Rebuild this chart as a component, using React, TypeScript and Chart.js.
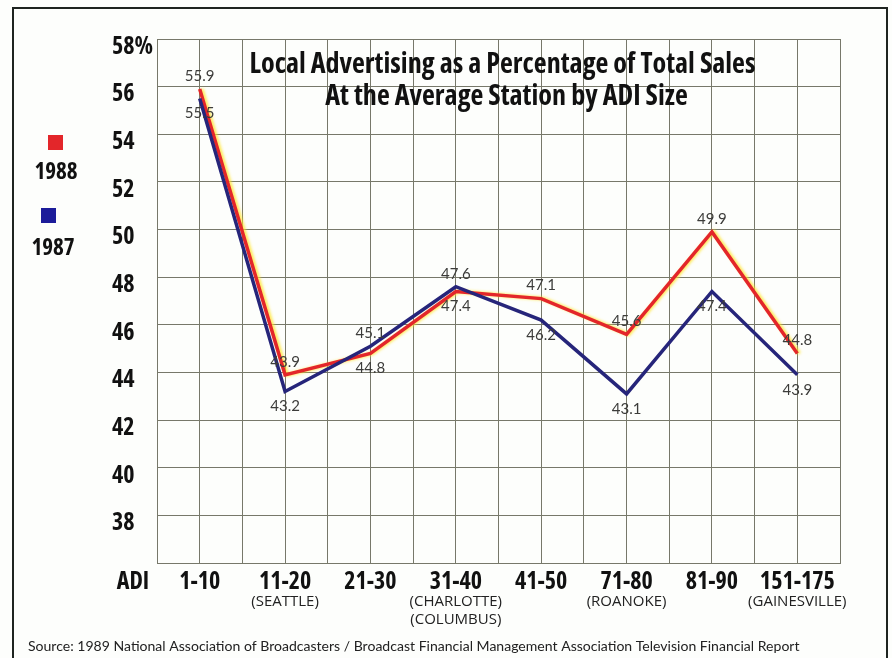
import React, { useEffect, useRef } from 'react';
import { Chart, registerables } from 'chart.js';

Chart.register(...registerables);

// ---- data ----
const categories = ['1-10', '11-20', '21-30', '31-40', '41-50', '71-80', '81-90', '151-175'];
const subLabels: string[][] = [[], ['(SEATTLE)'], [], ['(CHARLOTTE)', '(COLUMBUS)'], [], ['(ROANOKE)'], [], ['(GAINESVILLE)']];
const values1988 = [55.9, 43.9, 44.8, 47.4, 47.1, 45.6, 49.9, 44.8];
const values1987 = [55.5, 43.2, 45.1, 47.6, 46.2, 43.1, 47.4, 43.9];
const yMin = 36;
const yMax = 58;
const yStep = 2;
const titleLines = ['Local Advertising as a Percentage of Total Sales', 'At the Average Station by ADI Size'];
const sourceText = 'Source: 1989 National Association of Broadcasters / Broadcast Financial Management Association Television Financial Report';
const axisWord = 'ADI';
const seriesNames = ['1988', '1987'];

const RED = '#e3262a';
const BLUE = '#26257a';
const GRID = '#77786a';
const NARROW = '"Open Sans", "DejaVu Sans Condensed", sans-serif';
const ROUND = '"Lato", "Open Sans", sans-serif';
const BOLD_C = 'bold condensed';

function catLabel(v: number, arr: (string | string[])[]) {
  const i = Math.round(v);
  if (Math.abs(v - i) > 0.01) return '';
  const l = arr[i];
  if (l === undefined) return '';
  if (Array.isArray(l) && l.length === 0) return '';
  return l;
}

const decor = {
  id: 'decor',
  beforeDatasetsDraw(chart: any) {
    const { ctx, chartArea } = chart;
    ctx.save();
    ctx.fillStyle = '#111';
    ctx.textAlign = 'center';
    ctx.textBaseline = 'middle';
    const cx = (chartArea.left + chartArea.right) / 2 + 4;
    const targetW = 506;
    ctx.font = `${BOLD_C} 25px ${NARROW}`;
    const w0 = ctx.measureText(titleLines[0]).width;
    const size = 25 * targetW / w0;
    ctx.font = `${BOLD_C} ${size.toFixed(2)}px ${NARROW}`;
    ctx.fillText(titleLines[0], cx, chartArea.top + 26);
    ctx.fillText(titleLines[1], cx + 4, chartArea.top + 58);
    ctx.restore();
  },
  beforeDatasetDraw(chart: any, args: any) {
    const ctx = chart.ctx;
    ctx.save();
    if (chart.data.datasets[args.index].label === '1988') {
      ctx.shadowColor = 'rgba(255,228,40,0.85)';
      ctx.shadowBlur = 3;
      ctx.shadowOffsetX = 2;
      ctx.shadowOffsetY = 0;
    }
  },
  afterDatasetDraw(chart: any) {
    chart.ctx.restore();
  },
  afterDatasetsDraw(chart: any) {
    const { ctx } = chart;
    ctx.save();
    ctx.font = `15px ${ROUND}`;
    ctx.fillStyle = '#3c3c3a';
    ctx.textAlign = 'center';
    ctx.textBaseline = 'middle';
    const metas = chart.data.datasets.map((_: any, i: number) => chart.getDatasetMeta(i));
    chart.data.datasets.forEach((ds: any, di: number) => {
      const other = chart.data.datasets[1 - di];
      metas[di].data.forEach((pt: any, i: number) => {
        const v = ds.data[i].y;
        const o = other.data[i].y;
        const above = v >= o;
        const y = above ? pt.y - 13 : pt.y + 15;
        ctx.fillText(v.toFixed(1), pt.x, y);
      });
    });
    ctx.restore();
  },
  afterDraw(chart: any) {
    const { ctx, chartArea, height } = chart;
    ctx.save();
    // frame
    ctx.strokeStyle = '#1e2420';
    ctx.lineWidth = 2;
    ctx.beginPath();
    ctx.moveTo(13, height);
    ctx.lineTo(13, 8);
    ctx.lineTo(887, 8);
    ctx.lineTo(887, height);
    ctx.stroke();

    // ADI word
    const xs = chart.scales.x;
    ctx.fillStyle = '#111';
    ctx.font = `${BOLD_C} 24px ${NARROW}`;
    ctx.textAlign = 'center';
    ctx.textBaseline = 'middle';
    ctx.fillText(axisWord, chartArea.left - 24, xs.top + 19);

    // legend
    ctx.fillStyle = RED;
    ctx.fillRect(48, 135, 15, 15);
    ctx.fillStyle = '#1c1c9a';
    ctx.fillRect(41, 208, 15, 15);
    ctx.fillStyle = '#111';
    ctx.font = `${BOLD_C} 23px ${NARROW}`;
    ctx.fillText(seriesNames[0], 56, 172);
    ctx.fillText(seriesNames[1], 53, 248);

    // source
    ctx.font = `14px ${ROUND}`;
    const sw = ctx.measureText(sourceText).width;
    const ss = 14 * 772 / sw;
    ctx.font = `${ss.toFixed(2)}px ${ROUND}`;
    ctx.textAlign = 'left';
    ctx.fillStyle = '#222';
    ctx.fillText(sourceText, 28, height - 12);
    ctx.restore();
  },
};

export default function App() {
  const ref = useRef<HTMLCanvasElement>(null);
  useEffect(() => {
    document.body.style.margin = '0';
    const canvas = ref.current!;
    const mk = (vals: number[]) => vals.map((y, i) => ({ x: i, y }));
    const chart = new Chart(canvas, {
      type: 'line',
      data: {
        datasets: [
          {
            label: seriesNames[1],
            data: mk(values1987),
            borderColor: BLUE,
            borderWidth: 3.5,
            pointRadius: 0,
            tension: 0,
            fill: false,
          },
          {
            label: seriesNames[0],
            data: mk(values1988),
            borderColor: RED,
            borderWidth: 3.5,
            pointRadius: 0,
            tension: 0,
            fill: false,
          },
        ],
      },
      options: {
        animation: false,
        responsive: false,
        devicePixelRatio: 1,
        layout: { padding: { left: 112, right: 52, top: 39, bottom: 25 } },
        plugins: { legend: { display: false }, tooltip: { enabled: false }, title: { display: false } },
        scales: {
          x: {
            type: 'linear',
            position: 'bottom',
            min: -0.5,
            max: 7.5,
            afterFit: (s: any) => { s.height = 30; },
            ticks: {
              stepSize: 0.5,
              autoSkip: false,
              maxRotation: 0,
              padding: 7,
              color: '#111',
              font: { family: NARROW, size: 24, weight: BOLD_C, lineHeight: 1 },
              callback: (v: any) => catLabel(Number(v), categories),
            },
            grid: { color: GRID, lineWidth: 1, drawTicks: false },
            border: { color: GRID, width: 1 },
          },
          x2: {
            type: 'linear',
            position: 'bottom',
            min: -0.5,
            max: 7.5,
            afterFit: (s: any) => { s.height = 40; },
            ticks: {
              stepSize: 0.5,
              autoSkip: false,
              maxRotation: 0,
              padding: 0,
              color: '#222',
              font: { family: NARROW, size: 15, lineHeight: 1.2 },
              callback: (v: any) => catLabel(Number(v), subLabels),
            },
            grid: { display: false, drawTicks: false },
            border: { display: false },
          },
          y: {
            min: yMin,
            max: yMax,
            afterFit: (s: any) => { s.width = 45; },
            ticks: {
              stepSize: yStep,
              crossAlign: 'far',
              labelOffset: 8,
              padding: 0,
              color: '#111',
              font: { family: NARROW, size: 24, weight: BOLD_C },
              callback: (v: any) => (v === yMax ? `${v}%` : v === yMin ? '' : String(v)),
            },
            grid: { color: GRID, lineWidth: 1, drawTicks: false },
            border: { color: GRID, width: 1 },
          },
        },
      },
      plugins: [decor],
    } as any);
    return () => chart.destroy();
  }, []);
  return (
    <div style={{ width: 892, height: 658, background: '#fdfefc' }}>
      <canvas ref={ref} width={892} height={658} />
    </div>
  );
}
